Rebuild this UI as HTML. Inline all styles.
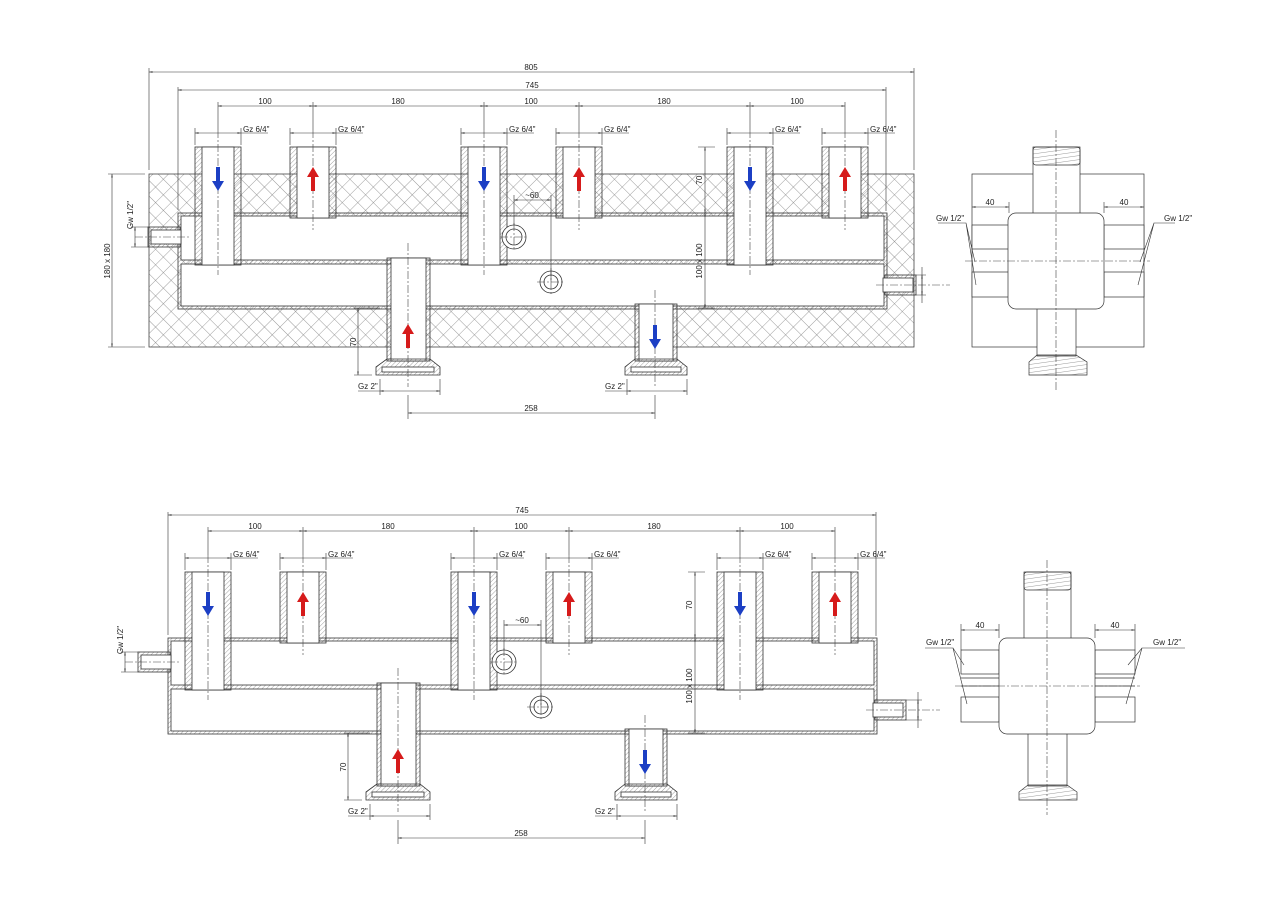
<!DOCTYPE html>
<html><head><meta charset="utf-8"><style>
html,body{margin:0;padding:0;background:#fff;}
svg{display:block;}
text{font-family:"Liberation Sans",sans-serif;font-size:8px;fill:#222;}
</style></head><body>
<svg width="1280" height="905" viewBox="0 0 1280 905" xmlns="http://www.w3.org/2000/svg">
<defs>
<pattern id="h" width="3.2" height="3.2" patternUnits="userSpaceOnUse" patternTransform="rotate(45)"><line x1="0" y1="0" x2="0" y2="3.2" stroke="#666" stroke-width="0.6"/></pattern>
<pattern id="t" width="4" height="4" patternUnits="userSpaceOnUse" patternTransform="rotate(-8)"><line x1="0" y1="0" x2="4" y2="0" stroke="#555" stroke-width="0.6"/></pattern>
<pattern id="x" width="11" height="11" patternUnits="userSpaceOnUse" patternTransform="rotate(45)"><path d="M0 0H11M0 0V11" stroke="#777" stroke-width="0.7" fill="none"/></pattern>
<marker id="a" viewBox="0 0 10 10" refX="10" refY="5" markerWidth="6" markerHeight="6" orient="auto-start-reverse"><path d="M0 3L10 5L0 7z" fill="#222"/></marker>
</defs>

<rect x="149" y="174" width="765" height="173" fill="url(#x)" stroke="#444" stroke-width="0.8"/>

<g transform="translate(10,-425)">
<g stroke="#333" stroke-width="0.8">
 <rect x="168" y="638" width="709" height="96" fill="url(#h)"/>
 <rect x="171" y="641" width="703" height="44" fill="#fff"/>
 <rect x="171" y="689" width="703" height="42" fill="#fff"/>
 <rect x="138" y="652" width="32" height="20" fill="url(#h)"/><rect x="141" y="655" width="30" height="14" fill="#fff"/>
 <rect x="875" y="700" width="31" height="20" fill="url(#h)"/><rect x="873" y="703" width="30" height="14" fill="#fff"/>
 <rect x="185" y="572" width="46" height="118" fill="url(#h)"/><rect x="192" y="572" width="32" height="118" fill="#fff"/>
 <rect x="280" y="572" width="46" height="71" fill="url(#h)"/><rect x="287" y="572" width="32" height="71" fill="#fff"/>
 <rect x="451" y="572" width="46" height="118" fill="url(#h)"/><rect x="458" y="572" width="32" height="118" fill="#fff"/>
 <rect x="546" y="572" width="46" height="71" fill="url(#h)"/><rect x="553" y="572" width="32" height="71" fill="#fff"/>
 <rect x="717" y="572" width="46" height="118" fill="url(#h)"/><rect x="724" y="572" width="32" height="118" fill="#fff"/>
 <rect x="812" y="572" width="46" height="71" fill="url(#h)"/><rect x="819" y="572" width="32" height="71" fill="#fff"/>
 <rect x="377" y="683" width="43" height="103" fill="url(#h)"/><rect x="381" y="683" width="35" height="103" fill="#fff"/>
 <path d="M377 784L366 792V800H430V792L420 784Z" fill="url(#h)"/><rect x="372" y="792" width="52" height="5" fill="#fff"/>
 <rect x="625" y="729" width="42" height="57" fill="url(#h)"/><rect x="629" y="729" width="34" height="57" fill="#fff"/>
 <path d="M625 784L615 792V800H677V792L667 784Z" fill="url(#h)"/><rect x="621" y="792" width="50" height="5" fill="#fff"/>
 <circle cx="504" cy="662" r="12" fill="#fff"/><circle cx="504" cy="662" r="8" fill="none"/>
 <circle cx="541" cy="707" r="11" fill="#fff"/><circle cx="541" cy="707" r="7" fill="none"/>
</g>
<g stroke="#444" stroke-width="0.6" stroke-dasharray="8,2,2,2" fill="none">
 <path d="M208 555V700M303 555V655M474 555V700M569 555V655M740 555V700M835 555V655M398 668V812M645 715V812M125 662H180M866 710H940M490 662H518M504 648V676M527 707H555M541 693V721"/>
</g>
<g>
 <path d="M206 592h4v14h4l-6 10l-6-10h4z" fill="#1c3fc4"/>
 <path d="M472 592h4v14h4l-6 10l-6-10h4z" fill="#1c3fc4"/>
 <path d="M738 592h4v14h4l-6 10l-6-10h4z" fill="#1c3fc4"/>
 <path d="M643 750h4v14h4l-6 10l-6-10h4z" fill="#1c3fc4"/>
 <path d="M301 616h4v-14h4l-6-10l-6 10h4z" fill="#d61b1b"/>
 <path d="M567 616h4v-14h4l-6-10l-6 10h4z" fill="#d61b1b"/>
 <path d="M833 616h4v-14h4l-6-10l-6 10h4z" fill="#d61b1b"/>
 <path d="M396 773h4v-14h4l-6-10l-6 10h4z" fill="#d61b1b"/>
</g>
<g stroke="#333" stroke-width="0.6" fill="none">
 <path d="M168 515H876" marker-start="url(#a)" marker-end="url(#a)"/>
 <path d="M168 512V635M876 512V636"/>
 <path d="M208 531H303" marker-start="url(#a)" marker-end="url(#a)"/>
 <path d="M303 531H474" marker-start="url(#a)" marker-end="url(#a)"/>
 <path d="M474 531H569" marker-start="url(#a)" marker-end="url(#a)"/>
 <path d="M569 531H740" marker-start="url(#a)" marker-end="url(#a)"/>
 <path d="M740 531H835" marker-start="url(#a)" marker-end="url(#a)"/>
 <path d="M208 527V555M303 527V555M474 527V555M569 527V555M740 527V555M835 527V555"/>
 <path d="M185 558H231" marker-start="url(#a)" marker-end="url(#a)"/><path d="M231 558H258M185 553V570M231 553V570"/>
 <path d="M280 558H326" marker-start="url(#a)" marker-end="url(#a)"/><path d="M326 558H353M280 553V570M326 553V570"/>
 <path d="M451 558H497" marker-start="url(#a)" marker-end="url(#a)"/><path d="M497 558H524M451 553V570M497 553V570"/>
 <path d="M546 558H592" marker-start="url(#a)" marker-end="url(#a)"/><path d="M592 558H619M546 553V570M592 553V570"/>
 <path d="M717 558H763" marker-start="url(#a)" marker-end="url(#a)"/><path d="M763 558H790M717 553V570M763 553V570"/>
 <path d="M812 558H858" marker-start="url(#a)" marker-end="url(#a)"/><path d="M858 558H885M812 553V570M858 553V570"/>
 <path d="M504 625H541" marker-start="url(#a)" marker-end="url(#a)"/><path d="M504 620V650M541 620V707"/>
 <path d="M695 572V638" marker-start="url(#a)" marker-end="url(#a)"/>
 <path d="M695 638V733" marker-start="url(#a)" marker-end="url(#a)"/>
 <path d="M688 572H705M688 733H705"/>
 <path d="M348 733V800" marker-start="url(#a)" marker-end="url(#a)"/><path d="M344 733H370M344 800H362"/>
 <path d="M125 652V672" marker-start="url(#a)" marker-end="url(#a)"/><path d="M121 652H138M121 672H138"/>
 <path d="M912 700V720" marker-start="url(#a)" marker-end="url(#a)"/><path d="M906 700H916M906 720H916M912 692V728"/>
 <path d="M370 816H430" marker-start="url(#a)" marker-end="url(#a)"/><path d="M348 816H370M370 804V820M430 804V820"/>
 <path d="M617 816H677" marker-start="url(#a)" marker-end="url(#a)"/><path d="M595 816H617M617 804V820M677 804V820"/>
 <path d="M398 838H645" marker-start="url(#a)" marker-end="url(#a)"/><path d="M398 820V844M645 820V844"/>
</g>
<g>
 <text x="522" y="513" text-anchor="middle">745</text>
 <text x="255" y="529" text-anchor="middle">100</text>
 <text x="388" y="529" text-anchor="middle">180</text>
 <text x="521" y="529" text-anchor="middle">100</text>
 <text x="654" y="529" text-anchor="middle">180</text>
 <text x="787" y="529" text-anchor="middle">100</text>
 <text x="233" y="557">Gz 6/4"</text><text x="328" y="557">Gz 6/4"</text>
 <text x="499" y="557">Gz 6/4"</text><text x="594" y="557">Gz 6/4"</text>
 <text x="765" y="557">Gz 6/4"</text><text x="860" y="557">Gz 6/4"</text>
 <text x="522" y="623" text-anchor="middle">~60</text>
 <text transform="translate(692,605) rotate(-90)" text-anchor="middle">70</text>
 <text transform="translate(692,686) rotate(-90)" text-anchor="middle">100 x 100</text>
 <text transform="translate(346,767) rotate(-90)" text-anchor="middle">70</text>
 <text transform="translate(123,640) rotate(-90)" text-anchor="middle">Gw 1/2"</text>
 <text x="348" y="814">Gz 2"</text>
 <text x="595" y="814">Gz 2"</text>
 <text x="521" y="836" text-anchor="middle">258</text>
</g>
</g>

<g>
<g stroke="#333" stroke-width="0.8">
 <rect x="168" y="638" width="709" height="96" fill="url(#h)"/>
 <rect x="171" y="641" width="703" height="44" fill="#fff"/>
 <rect x="171" y="689" width="703" height="42" fill="#fff"/>
 <rect x="138" y="652" width="32" height="20" fill="url(#h)"/><rect x="141" y="655" width="30" height="14" fill="#fff"/>
 <rect x="875" y="700" width="31" height="20" fill="url(#h)"/><rect x="873" y="703" width="30" height="14" fill="#fff"/>
 <rect x="185" y="572" width="46" height="118" fill="url(#h)"/><rect x="192" y="572" width="32" height="118" fill="#fff"/>
 <rect x="280" y="572" width="46" height="71" fill="url(#h)"/><rect x="287" y="572" width="32" height="71" fill="#fff"/>
 <rect x="451" y="572" width="46" height="118" fill="url(#h)"/><rect x="458" y="572" width="32" height="118" fill="#fff"/>
 <rect x="546" y="572" width="46" height="71" fill="url(#h)"/><rect x="553" y="572" width="32" height="71" fill="#fff"/>
 <rect x="717" y="572" width="46" height="118" fill="url(#h)"/><rect x="724" y="572" width="32" height="118" fill="#fff"/>
 <rect x="812" y="572" width="46" height="71" fill="url(#h)"/><rect x="819" y="572" width="32" height="71" fill="#fff"/>
 <rect x="377" y="683" width="43" height="103" fill="url(#h)"/><rect x="381" y="683" width="35" height="103" fill="#fff"/>
 <path d="M377 784L366 792V800H430V792L420 784Z" fill="url(#h)"/><rect x="372" y="792" width="52" height="5" fill="#fff"/>
 <rect x="625" y="729" width="42" height="57" fill="url(#h)"/><rect x="629" y="729" width="34" height="57" fill="#fff"/>
 <path d="M625 784L615 792V800H677V792L667 784Z" fill="url(#h)"/><rect x="621" y="792" width="50" height="5" fill="#fff"/>
 <circle cx="504" cy="662" r="12" fill="#fff"/><circle cx="504" cy="662" r="8" fill="none"/>
 <circle cx="541" cy="707" r="11" fill="#fff"/><circle cx="541" cy="707" r="7" fill="none"/>
</g>
<g stroke="#444" stroke-width="0.6" stroke-dasharray="8,2,2,2" fill="none">
 <path d="M208 555V700M303 555V655M474 555V700M569 555V655M740 555V700M835 555V655M398 668V812M645 715V812M125 662H180M866 710H940M490 662H518M504 648V676M527 707H555M541 693V721"/>
</g>
<g>
 <path d="M206 592h4v14h4l-6 10l-6-10h4z" fill="#1c3fc4"/>
 <path d="M472 592h4v14h4l-6 10l-6-10h4z" fill="#1c3fc4"/>
 <path d="M738 592h4v14h4l-6 10l-6-10h4z" fill="#1c3fc4"/>
 <path d="M643 750h4v14h4l-6 10l-6-10h4z" fill="#1c3fc4"/>
 <path d="M301 616h4v-14h4l-6-10l-6 10h4z" fill="#d61b1b"/>
 <path d="M567 616h4v-14h4l-6-10l-6 10h4z" fill="#d61b1b"/>
 <path d="M833 616h4v-14h4l-6-10l-6 10h4z" fill="#d61b1b"/>
 <path d="M396 773h4v-14h4l-6-10l-6 10h4z" fill="#d61b1b"/>
</g>
<g stroke="#333" stroke-width="0.6" fill="none">
 <path d="M168 515H876" marker-start="url(#a)" marker-end="url(#a)"/>
 <path d="M168 512V635M876 512V636"/>
 <path d="M208 531H303" marker-start="url(#a)" marker-end="url(#a)"/>
 <path d="M303 531H474" marker-start="url(#a)" marker-end="url(#a)"/>
 <path d="M474 531H569" marker-start="url(#a)" marker-end="url(#a)"/>
 <path d="M569 531H740" marker-start="url(#a)" marker-end="url(#a)"/>
 <path d="M740 531H835" marker-start="url(#a)" marker-end="url(#a)"/>
 <path d="M208 527V555M303 527V555M474 527V555M569 527V555M740 527V555M835 527V555"/>
 <path d="M185 558H231" marker-start="url(#a)" marker-end="url(#a)"/><path d="M231 558H258M185 553V570M231 553V570"/>
 <path d="M280 558H326" marker-start="url(#a)" marker-end="url(#a)"/><path d="M326 558H353M280 553V570M326 553V570"/>
 <path d="M451 558H497" marker-start="url(#a)" marker-end="url(#a)"/><path d="M497 558H524M451 553V570M497 553V570"/>
 <path d="M546 558H592" marker-start="url(#a)" marker-end="url(#a)"/><path d="M592 558H619M546 553V570M592 553V570"/>
 <path d="M717 558H763" marker-start="url(#a)" marker-end="url(#a)"/><path d="M763 558H790M717 553V570M763 553V570"/>
 <path d="M812 558H858" marker-start="url(#a)" marker-end="url(#a)"/><path d="M858 558H885M812 553V570M858 553V570"/>
 <path d="M504 625H541" marker-start="url(#a)" marker-end="url(#a)"/><path d="M504 620V650M541 620V707"/>
 <path d="M695 572V638" marker-start="url(#a)" marker-end="url(#a)"/>
 <path d="M695 638V733" marker-start="url(#a)" marker-end="url(#a)"/>
 <path d="M688 572H705M688 733H705"/>
 <path d="M348 733V800" marker-start="url(#a)" marker-end="url(#a)"/><path d="M344 733H370M344 800H362"/>
 <path d="M125 652V672" marker-start="url(#a)" marker-end="url(#a)"/><path d="M121 652H138M121 672H138"/>
 <path d="M918 700V720" marker-start="url(#a)" marker-end="url(#a)"/><path d="M906 700H922M906 720H922M918 692V728"/>
 <path d="M370 816H430" marker-start="url(#a)" marker-end="url(#a)"/><path d="M348 816H370M370 804V820M430 804V820"/>
 <path d="M617 816H677" marker-start="url(#a)" marker-end="url(#a)"/><path d="M595 816H617M617 804V820M677 804V820"/>
 <path d="M398 838H645" marker-start="url(#a)" marker-end="url(#a)"/><path d="M398 820V844M645 820V844"/>
</g>
<g>
 <text x="522" y="513" text-anchor="middle">745</text>
 <text x="255" y="529" text-anchor="middle">100</text>
 <text x="388" y="529" text-anchor="middle">180</text>
 <text x="521" y="529" text-anchor="middle">100</text>
 <text x="654" y="529" text-anchor="middle">180</text>
 <text x="787" y="529" text-anchor="middle">100</text>
 <text x="233" y="557">Gz 6/4"</text><text x="328" y="557">Gz 6/4"</text>
 <text x="499" y="557">Gz 6/4"</text><text x="594" y="557">Gz 6/4"</text>
 <text x="765" y="557">Gz 6/4"</text><text x="860" y="557">Gz 6/4"</text>
 <text x="522" y="623" text-anchor="middle">~60</text>
 <text transform="translate(692,605) rotate(-90)" text-anchor="middle">70</text>
 <text transform="translate(692,686) rotate(-90)" text-anchor="middle">100 x 100</text>
 <text transform="translate(346,767) rotate(-90)" text-anchor="middle">70</text>
 <text transform="translate(123,640) rotate(-90)" text-anchor="middle">Gw 1/2"</text>
 <text x="348" y="814">Gz 2"</text>
 <text x="595" y="814">Gz 2"</text>
 <text x="521" y="836" text-anchor="middle">258</text>
</g>
</g>

<g stroke="#333" stroke-width="0.6" fill="none">
 <path d="M149 72H914" marker-start="url(#a)" marker-end="url(#a)"/>
 <path d="M149 68V170M914 68V170"/>
 <path d="M112 174V347" marker-start="url(#a)" marker-end="url(#a)"/>
 <path d="M108 174H145M108 347H145"/>
</g>
<text x="531" y="70" text-anchor="middle">805</text>
<text transform="translate(110,261) rotate(-90)" text-anchor="middle">180 x 180</text>

<rect x="972" y="174" width="172" height="173" fill="#fff" stroke="#333" stroke-width="0.7"/>
<g stroke="#333" stroke-width="0.7" fill="#fff">
 <rect x="972" y="225" width="38" height="24"/><rect x="972" y="272" width="38" height="25"/>
 <rect x="1104" y="225" width="40" height="24"/><rect x="1104" y="272" width="40" height="25"/>
 <rect x="1033" y="147" width="47" height="68"/>
 <rect x="1033" y="147" width="47" height="18" fill="url(#t)" rx="3"/>
 <rect x="1037" y="306" width="39" height="50"/>
 <path d="M1037 355L1029 362V375H1087V362L1076 355Z" fill="url(#t)"/>
 <rect x="1008" y="213" width="96" height="96" rx="8"/>
 <rect x="961" y="650" width="38" height="24"/><rect x="961" y="697" width="38" height="25"/>
 <rect x="1095" y="650" width="40" height="24"/><rect x="1095" y="697" width="40" height="25"/>
 <path d="M961 678H999M961 686H999M1095 678H1135M1095 686H1135" fill="none"/>
 <rect x="1024" y="572" width="47" height="68"/>
 <rect x="1024" y="572" width="47" height="18" fill="url(#t)" rx="3"/>
 <rect x="1028" y="731" width="39" height="55"/>
 <path d="M1028 785L1019 792V800H1077V792L1067 785Z" fill="url(#t)"/>
 <rect x="999" y="638" width="96" height="96" rx="8"/>
</g>
<g stroke="#444" stroke-width="0.6" stroke-dasharray="8,2,2,2" fill="none">
 <path d="M1056 130V392M965 261H1150M1047 560V815M955 686H1140"/>
</g>
<g stroke="#333" stroke-width="0.6" fill="none">
 <path d="M972 207H1009" marker-start="url(#a)" marker-end="url(#a)"/><path d="M1009 202V213"/>
 <path d="M1104 207H1144" marker-start="url(#a)" marker-end="url(#a)"/><path d="M1104 202V213"/>
 <path d="M938 223H966L975 262M966 223L976 285M1175 223H1154L1140 262M1154 223L1138 285"/>
 <path d="M961 630H999" marker-start="url(#a)" marker-end="url(#a)"/><path d="M999 624V638M961 624V650"/>
 <path d="M1095 630H1135" marker-start="url(#a)" marker-end="url(#a)"/><path d="M1095 624V638M1135 624V650"/>
 <path d="M925 648H953L964 665M953 648L967 704M1185 648H1142L1128 665M1142 648L1126 704"/>
</g>
<text x="990" y="205" text-anchor="middle">40</text>
<text x="1124" y="205" text-anchor="middle">40</text>
<text x="936" y="221">Gw 1/2"</text>
<text x="1164" y="221">Gw 1/2"</text>
<text x="980" y="628" text-anchor="middle">40</text>
<text x="1115" y="628" text-anchor="middle">40</text>
<text x="926" y="645">Gw 1/2"</text>
<text x="1153" y="645">Gw 1/2"</text>
</svg>
</body></html>
